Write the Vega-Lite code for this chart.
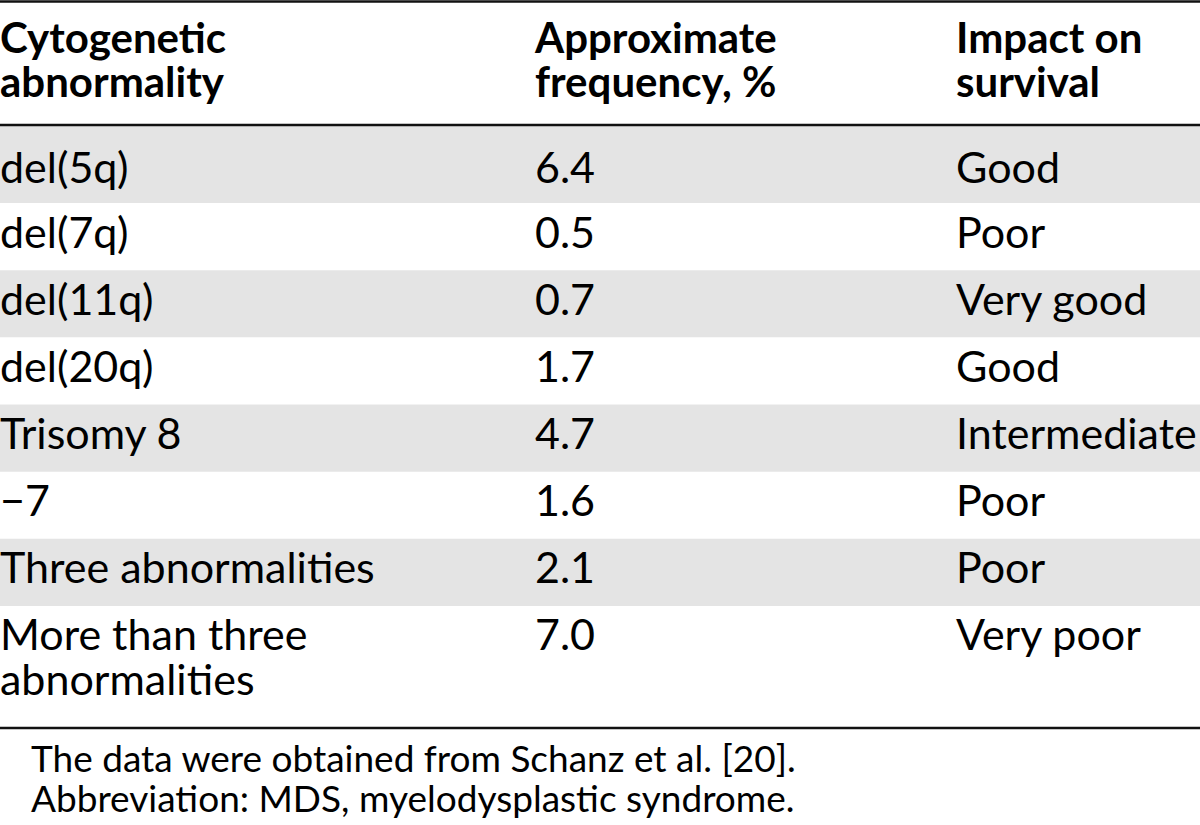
{
  "$schema": "https://vega.github.io/schema/vega-lite/v6.json",
  "width": 1200,
  "height": 825,
  "autosize": {"type": "none"},
  "padding": 0,
  "background": "white",
  "config": {"view": {"stroke": null}, "text": {"font": "Lato", "fontSize": 43, "color": "black"}},
  "datasets": {
    "rows": [
      {"row": 1, "abnormality": "del(5q)", "frequency": 6.4, "impact": "Good"},
      {"row": 2, "abnormality": "del(7q)", "frequency": 0.5, "impact": "Poor"},
      {"row": 3, "abnormality": "del(11q)", "frequency": 0.7, "impact": "Very good"},
      {"row": 4, "abnormality": "del(20q)", "frequency": 1.7, "impact": "Good"},
      {"row": 5, "abnormality": "Trisomy 8", "frequency": 4.7, "impact": "Intermediate"},
      {"row": 6, "abnormality": "−7", "frequency": 1.6, "impact": "Poor"},
      {"row": 7, "abnormality": "Three abnormalities", "frequency": 2.1, "impact": "Poor"},
      {"row": 8, "abnormality": "More than three\nabnormalities", "frequency": 7.0, "impact": "Very poor"}
    ],
    "columns": [
      {"col": 1, "label": "Cytogenetic\nabnormality"},
      {"col": 2, "label": "Approximate\nfrequency, %"},
      {"col": 3, "label": "Impact on\nsurvival"}
    ],
    "notes": [
      {"line": 9, "note": "The data were obtained from Schanz et al. [20]."},
      {"line": 10, "note": "Abbreviation: MDS, myelodysplastic syndrome."}
    ],
    "edges": [{"edge": -1}, {"edge": 0}, {"edge": 8}]
  },
  "layer": [
    {
      "layer": [
        {
          "data": {"name": "rows"},
          "mark": {"type": "rect"},
          "encoding": {
            "x": {"value": 0},
            "x2": {"value": "width"},
            "y": {"field": "row", "type": "quantitative", "axis": null,
                  "scale": {"domain": [-1, 0, 1, 7, 8], "range": [1.5, 125, 203, 606, 728], "zero": false, "nice": false}},
            "y2": {"datum": 0},
            "color": {"condition": {"test": "datum.row % 2 === 1", "value": "#e4e4e4"}, "value": "#ffffff"},
            "order": {"field": "row", "type": "quantitative", "sort": "descending"}
          }
        },
        {
          "data": {"name": "edges"},
          "mark": {"type": "rule", "strokeWidth": 2.5, "color": "#111111"},
          "encoding": {
            "y": {"field": "edge", "type": "quantitative", "axis": null}
          }
        }
      ]
    },
    {
      "layer": [
        {
          "data": {"name": "columns"},
          "mark": {"type": "text", "align": "left", "baseline": "alphabetic", "fontWeight": "bold", "fontSize": 42, "lineBreak": "\n", "lineHeight": 44},
          "encoding": {
            "x": {"field": "col", "type": "quantitative", "axis": null,
                  "scale": {"domain": [1, 2, 3], "range": [0, 535, 956], "zero": false, "nice": false}},
            "y": {"datum": 0, "type": "quantitative", "axis": null,
                  "scale": {"domain": [0, 1, 2, 8, 9, 10], "range": [53, 183, 248, 650, 772, 812], "zero": false, "nice": false}},
            "text": {"field": "label", "type": "nominal"}
          }
        },
        {
          "data": {"name": "rows"},
          "mark": {"type": "text", "align": "left", "baseline": "alphabetic", "lineBreak": "\n", "lineHeight": 45},
          "encoding": {
            "x": {"datum": 1, "type": "quantitative", "axis": null},
            "y": {"field": "row", "type": "quantitative", "axis": null},
            "text": {"field": "abnormality", "type": "nominal"}
          }
        },
        {
          "data": {"name": "rows"},
          "mark": {"type": "text", "align": "left", "baseline": "alphabetic"},
          "encoding": {
            "x": {"datum": 2, "type": "quantitative", "axis": null},
            "y": {"field": "row", "type": "quantitative", "axis": null},
            "text": {"field": "frequency", "type": "quantitative", "format": ".1f"}
          }
        },
        {
          "data": {"name": "rows"},
          "mark": {"type": "text", "align": "left", "baseline": "alphabetic"},
          "encoding": {
            "x": {"datum": 3, "type": "quantitative", "axis": null},
            "y": {"field": "row", "type": "quantitative", "axis": null},
            "text": {"field": "impact", "type": "nominal"}
          }
        },
        {
          "data": {"name": "notes"},
          "mark": {"type": "text", "align": "left", "baseline": "alphabetic", "fontSize": 37, "dx": 31},
          "encoding": {
            "x": {"datum": 1, "type": "quantitative", "axis": null},
            "y": {"field": "line", "type": "quantitative", "axis": null},
            "text": {"field": "note", "type": "nominal"}
          }
        }
      ]
    }
  ],
  "resolve": {"scale": {"y": "independent"}}
}
